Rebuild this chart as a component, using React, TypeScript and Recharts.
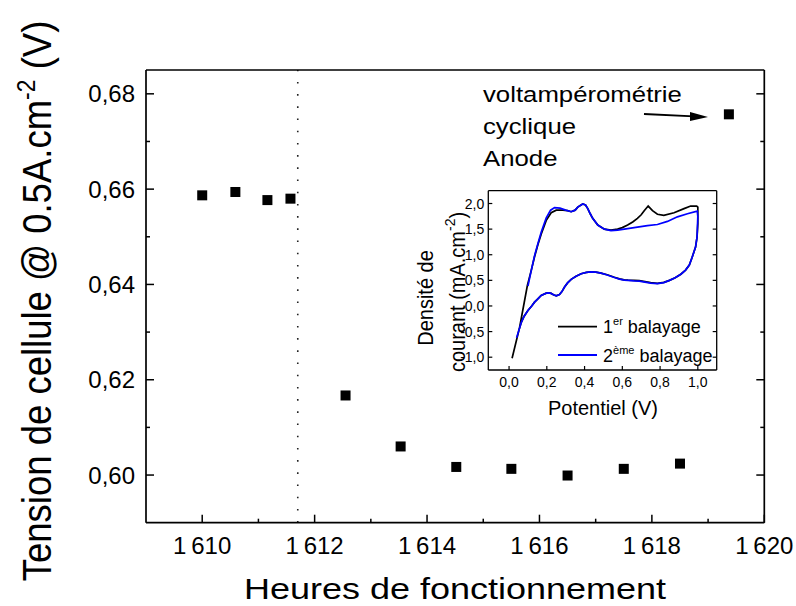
import React from "react";
import { ScatterChart, Scatter, XAxis, YAxis, ReferenceLine, LineChart, Line } from "recharts";

// main plot: cell voltage vs operating hours
const hours = [1610.0, 1610.59, 1611.16, 1611.57, 1612.55, 1613.53, 1614.52, 1615.5, 1616.5, 1617.5, 1618.5, 1619.37];
const voltages = [0.6587, 0.6594, 0.6577, 0.658, 0.6167, 0.606, 0.6017, 0.6013, 0.5999, 0.6013, 0.6024, 0.6757];
const hourTicks = [1610, 1611, 1612, 1613, 1614, 1615, 1616, 1617, 1618, 1619, 1620];
const voltTicks = [0.6, 0.61, 0.62, 0.63, 0.64, 0.65, 0.66, 0.67, 0.68];
const cvMarker = 1611.7;

// inset: cyclic voltammetry, [potential V, current density mA/cm2]
const sweep1: [number, number][] = [
  [0.016, -1.02], [0.056, -0.415], [0.097, 0.4], [0.118, 0.7], [0.135, 0.96], [0.153, 1.2], [0.171, 1.41],
  [0.197, 1.67], [0.223, 1.82], [0.25, 1.87], [0.285, 1.87], [0.31, 1.86], [0.329, 1.84], [0.35, 1.87],
  [0.364, 1.93], [0.39, 1.99], [0.405, 1.97], [0.417, 1.9], [0.43, 1.8], [0.443, 1.71], [0.47, 1.58],
  [0.505, 1.5], [0.54, 1.48], [0.575, 1.5], [0.6, 1.53], [0.628, 1.58], [0.655, 1.64], [0.68, 1.71],
  [0.7, 1.78], [0.716, 1.86], [0.737, 1.95], [0.76, 1.86], [0.786, 1.79], [0.82, 1.77], [0.874, 1.82],
  [0.927, 1.9], [0.962, 1.95], [0.994, 1.95], [1.0, 1.93], [1.0, 1.6], [0.996, 1.35], [0.988, 1.15],
  [0.97, 0.95], [0.955, 0.8], [0.935, 0.7], [0.91, 0.62], [0.88, 0.55], [0.85, 0.5], [0.82, 0.46],
  [0.786, 0.44], [0.75, 0.455], [0.72, 0.475], [0.69, 0.495], [0.663, 0.5], [0.63, 0.505], [0.61, 0.51],
  [0.585, 0.53], [0.558, 0.56], [0.52, 0.61], [0.487, 0.64], [0.46, 0.66], [0.434, 0.665], [0.41, 0.655],
  [0.382, 0.63], [0.355, 0.58], [0.329, 0.52], [0.31, 0.45], [0.294, 0.37], [0.28, 0.28], [0.267, 0.225],
  [0.25, 0.2], [0.235, 0.22], [0.223, 0.245], [0.21, 0.255], [0.197, 0.25], [0.17, 0.206], [0.15, 0.13],
  [0.135, 0.075], [0.12, 0.0], [0.1, -0.09], [0.08, -0.2], [0.065, -0.32], [0.05, -0.5],
];
const sweep2: [number, number][] = [
  [0.1, 0.39], [0.118, 0.7], [0.135, 0.98], [0.153, 1.22], [0.171, 1.45], [0.197, 1.72], [0.22, 1.87],
  [0.241, 1.92], [0.27, 1.91], [0.3, 1.87], [0.329, 1.84], [0.35, 1.87], [0.364, 1.93], [0.39, 1.99],
  [0.405, 1.97], [0.417, 1.9], [0.43, 1.8], [0.443, 1.71], [0.47, 1.58], [0.505, 1.5], [0.54, 1.47],
  [0.575, 1.48], [0.628, 1.51], [0.68, 1.54], [0.733, 1.57], [0.786, 1.59], [0.839, 1.65], [0.892, 1.74],
  [0.945, 1.8], [0.997, 1.85], [1.0, 1.75], [0.998, 1.55], [0.996, 1.35], [0.988, 1.15], [0.97, 0.95],
  [0.955, 0.8], [0.935, 0.7], [0.91, 0.62], [0.88, 0.55], [0.85, 0.5], [0.82, 0.455], [0.786, 0.435],
  [0.75, 0.445], [0.72, 0.465], [0.69, 0.485], [0.663, 0.49], [0.63, 0.5], [0.61, 0.505], [0.585, 0.525],
  [0.558, 0.555], [0.52, 0.605], [0.487, 0.64], [0.46, 0.66], [0.434, 0.665], [0.41, 0.655], [0.382, 0.63],
  [0.355, 0.58], [0.329, 0.52], [0.31, 0.45], [0.294, 0.37], [0.28, 0.28], [0.267, 0.225], [0.25, 0.2],
  [0.235, 0.22], [0.223, 0.245], [0.21, 0.255], [0.197, 0.25], [0.17, 0.206], [0.15, 0.13], [0.135, 0.075],
  [0.12, 0.0], [0.1, -0.09], [0.08, -0.2], [0.065, -0.32], [0.04, -0.62],
];
const potTicks = [0, 0.2, 0.4, 0.6, 0.8, 1.0];
const currTicks = [-1, -0.5, 0, 0.5, 1, 1.5, 2];

const FONT = "'Liberation Sans', Arial, sans-serif";
const points = hours.map((h, i) => ({ x: h, y: voltages[i] }));
const cv1 = sweep1.map(([x, y]) => ({ x, y }));
const cv2 = sweep2.map(([x, y]) => ({ x, y }));

const fmtHour = (v: number) => { const s = String(v); return s.slice(0, 1) + "\u2009" + s.slice(1); };
const fmtVolt = (v: number) => v.toFixed(2).replace(".", ",");
const fmtComma = (v: number) => v.toFixed(1).replace(".", ",");
const majorHour = (v: number) => v % 2 === 0;
const majorVolt = (v: number) => Math.round(v * 100) % 2 === 0;

// ticks are drawn inward from the axis line (tickSize 0 puts x,y on the axis)
function MainTick(props: any) {
  const { x, y, payload, side } = props;
  const v = payload.value;
  const horiz = side === "bottom" || side === "top";
  const major = horiz ? majorHour(v) : majorVolt(v);
  const len = major ? 8 : 4;
  const dir = side === "bottom" || side === "right" ? -1 : 1;
  return (
    <g>
      {horiz
        ? <line x1={x} x2={x} y1={y} y2={y + dir * len} stroke="#000" strokeWidth={1.5} />
        : <line x1={x} x2={x + dir * len} y1={y} y2={y} stroke="#000" strokeWidth={1.5} />}
      {major && side === "bottom" && (
        <text x={x} y={y + 31} textAnchor="middle" fontSize={24} fontFamily={FONT} fill="#000">{fmtHour(v)}</text>
      )}
      {major && side === "left" && (
        <text x={x - 11} y={y + 8.5} textAnchor="end" fontSize={24} fontFamily={FONT} fill="#000">{fmtVolt(v)}</text>
      )}
    </g>
  );
}

function InsetTick(props: any) {
  const { x, y, payload, side } = props;
  const v = payload.value;
  const len = 4;
  const dir = side === "bottom" || side === "right" ? -1 : 1;
  const horiz = side === "bottom" || side === "top";
  return (
    <g>
      {horiz
        ? <line x1={x} x2={x} y1={y} y2={y + dir * len} stroke="#000" strokeWidth={1.2} />
        : <line x1={x} x2={x + dir * len} y1={y} y2={y} stroke="#000" strokeWidth={1.2} />}
      {side === "bottom" && (
        <text x={x} y={y + 17} textAnchor="middle" fontSize={14} fontFamily={FONT} fill="#000">{fmtComma(v)}</text>
      )}
      {side === "left" && (
        <text x={x - 4} y={y + 5} textAnchor="end" fontSize={14} fontFamily={FONT} fill="#000">{fmtComma(v)}</text>
      )}
    </g>
  );
}

function SquareDot(props: any) {
  const { cx, cy } = props;
  return <rect x={cx - 5} y={cy - 5} width={10} height={10} fill="#000" />;
}

const frame = { stroke: "#000", strokeWidth: 1.7 };
const insetFrame = { stroke: "#000", strokeWidth: 1.3 };

export default function App() {
  return (
    <div style={{ position: "absolute", left: 0, top: 0, width: 796, height: 606, background: "#fff" }}>
      <ScatterChart width={796} height={606} margin={{ top: 69, right: 30.7, bottom: 82.3, left: 145 }}>
        <XAxis xAxisId="b" type="number" dataKey="x" domain={[1609, 1620]} allowDataOverflow ticks={hourTicks}
          interval={0} height={1} tickSize={0} tickMargin={0} tickLine={false} axisLine={frame}
          tick={<MainTick side="bottom" />} />
        <XAxis xAxisId="t" orientation="top" type="number" domain={[1609, 1620]} allowDataOverflow ticks={hourTicks}
          interval={0} height={1} tickSize={0} tickMargin={0} tickLine={false} axisLine={frame}
          tick={<MainTick side="top" />} />
        <YAxis yAxisId="l" type="number" dataKey="y" domain={[0.59, 0.685]} allowDataOverflow ticks={voltTicks}
          interval={0} width={1} tickSize={0} tickMargin={0} tickLine={false} axisLine={frame}
          tick={<MainTick side="left" />} />
        <YAxis yAxisId="r" orientation="right" type="number" domain={[0.59, 0.685]} allowDataOverflow ticks={voltTicks}
          interval={0} width={1} tickSize={0} tickMargin={0} tickLine={false} axisLine={frame}
          tick={<MainTick side="right" />} />
        <ReferenceLine xAxisId="b" yAxisId="l" x={cvMarker} stroke="#222" strokeWidth={1.6} strokeDasharray="1.6 10.6" />
        <Scatter xAxisId="b" yAxisId="l" data={points} fill="#000" shape={<SquareDot />} isAnimationActive={false} />
      </ScatterChart>

      <div style={{ position: "absolute", left: 400, top: 180 }}>
        <LineChart width={330} height={240} margin={{ top: 9.7, right: 12.3, bottom: 49, left: 87.3 }}>
          <XAxis xAxisId="b" type="number" dataKey="x" domain={[-0.11, 1.1]} allowDataOverflow ticks={potTicks}
            interval={0} height={1} tickSize={0} tickMargin={0} tickLine={false} axisLine={insetFrame}
            tick={<InsetTick side="bottom" />} />
          <XAxis xAxisId="t" orientation="top" type="number" domain={[-0.11, 1.1]} allowDataOverflow ticks={potTicks}
            interval={0} height={1} tickSize={0} tickMargin={0} tickLine={false} axisLine={insetFrame}
            tick={<InsetTick side="top" />} />
          <YAxis yAxisId="l" type="number" domain={[-1.25, 2.25]} allowDataOverflow ticks={currTicks}
            interval={0} width={1} tickSize={0} tickMargin={0} tickLine={false} axisLine={insetFrame}
            tick={<InsetTick side="left" />} />
          <YAxis yAxisId="r" orientation="right" type="number" domain={[-1.25, 2.25]} allowDataOverflow ticks={currTicks}
            interval={0} width={1} tickSize={0} tickMargin={0} tickLine={false} axisLine={insetFrame}
            tick={<InsetTick side="right" />} />
          <Line xAxisId="b" yAxisId="l" data={cv1} dataKey="y" type="linear" stroke="#000" strokeWidth={1.7}
            dot={false} isAnimationActive={false} />
          <Line xAxisId="b" yAxisId="l" data={cv2} dataKey="y" type="linear" stroke="#0000ff" strokeWidth={1.7}
            dot={false} isAnimationActive={false} />
        </LineChart>
      </div>

      <svg width={796} height={606} style={{ position: "absolute", left: 0, top: 0, pointerEvents: "none" }}
        fontFamily={FONT} fill="#000">
        {/* axis titles */}
        <text transform="translate(51,301) rotate(-90) scale(1,1.12)" textAnchor="middle" fontSize={36.5}>
          Tension de cellule @ 0.5A.cm<tspan dy={-14} fontSize={23}>-2</tspan><tspan dy={14}> (V)</tspan>
        </text>
        <text transform="translate(455,599) scale(1.2,1)" textAnchor="middle" fontSize={30}>Heures de fonctionnement</text>

        {/* annotation */}
        <g transform="translate(483,0) scale(1.12,1)" fontSize={23}>
          <text x={0} y={102}>voltampérométrie</text>
          <text x={0} y={134}>cyclique</text>
          <text x={0} y={166}>Anode</text>
        </g>
        <line x1={644} y1={114} x2={694} y2={116.3} stroke="#000" strokeWidth={1.8} />
        <polygon points="708,117 690,112 690,121" fill="#000" />

        {/* inset titles */}
        <text x={603} y={415} textAnchor="middle" fontSize={20}>Potentiel (V)</text>
        <text transform="translate(433,298) rotate(-90) scale(1,1.1)" textAnchor="middle" fontSize={20}>Densité de</text>
        <text transform="translate(465,292) rotate(-90) scale(1,1.1)" textAnchor="middle" fontSize={20}>
          courant (mA.cm<tspan dy={-9} fontSize={14}>-2</tspan><tspan dy={9}>)</tspan>
        </text>

        {/* inset legend */}
        <line x1={558} x2={597} y1={326.7} y2={326.7} stroke="#000" strokeWidth={1.8} />
        <text x={603} y={333} fontSize={18}>1<tspan dy={-8} fontSize={11}>er</tspan><tspan dy={8}> balayage</tspan></text>
        <line x1={558} x2={597} y1={355} y2={355} stroke="#0000ff" strokeWidth={1.8} />
        <text x={603} y={361.5} fontSize={18}>2<tspan dy={-8} fontSize={11}>ème</tspan><tspan dy={8}> balayage</tspan></text>
      </svg>
    </div>
  );
}
